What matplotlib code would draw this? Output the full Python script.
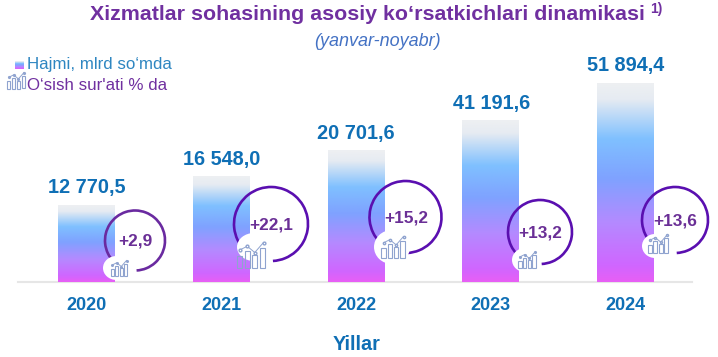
import matplotlib as mpl
mpl.use('Agg')
import matplotlib.pyplot as plt
import numpy as np
from matplotlib.colors import LinearSegmentedColormap
from matplotlib.patches import Arc, Ellipse, Rectangle

plt.rcParams['font.family'] = ['Liberation Sans', 'DejaVu Sans']

years = ['2020', '2021', '2022', '2023', '2024']
volume_labels = ['12 770,5', '16 548,0', '20 701,6', '41 191,6', '51 894,4']
# bar heights as drawn in the picture, they are not proportional to the labels
bar_heights = [77, 106, 132, 162, 199]
growth_labels = ['+2,9', '+22,1', '+15,2', '+13,2', '+13,6']

# ring: x, y, radius, colour
rings = [(135, 240.5, 30, '#6a2aa0'), (271, 224, 37, '#5a0fb0'), (405.5, 217, 36, '#5a0fb0'),
         (540, 232, 32, '#5a0fb0'), (675, 220, 33, '#5a0fb0')]
# white blob behind the icon: x, y, half width, half height
blobs = [(116.5, 268, 13.5, 12), (254, 247, 17, 14), (392, 247, 18, 17), (525, 260, 13, 12), (655, 246, 13, 12)]
# icon: x, y, scale
icons = [(119, 268, 0.75), (251, 255, 1.25), (393, 247, 1.05), (527, 260, 0.78), (658, 244, 0.92)]

BLUE = '#0f6fb5'
PURPLE = '#7030a0'
ICON = '#8fa3cf'

grad = LinearSegmentedColormap.from_list('bar', [
    (0.0, '#eef0f2'), (0.08, '#e6ebf2'), (0.28, '#7fc0ff'), (0.48, '#7fa2ff'),
    (0.7, '#b48aff'), (0.92, '#d066ff'), (1.0, '#e85ff5')])
ramp = np.linspace(0, 1, 256).reshape(-1, 1)

fig = plt.figure(figsize=(7.18, 3.57), dpi=100)
ax = fig.add_axes([0, 0, 1, 1])
ax.axis('off')

BASE = 282
BAR_W = 57
xs = [86.5 + 134.75 * i for i in range(len(years))]
label_dx = [0.5, 0.5, 0, 0.5, 0.5]


def draw_icon(cx, cy, s, color=ICON):
  for dx, h in [(-11, 9), (-5, 13), (1, 10), (7, 16)]:
    ax.add_patch(Rectangle((cx + dx * s, cy + 10 * s - h * s), 4 * s, h * s, fill=False,
                           ec=color, lw=0.8, zorder=6))
  ax.plot([cx - 9 * s, cx - 3 * s, cx + 3 * s, cx + 10 * s],
          [cy - 4 * s, cy - 7 * s, cy - 2 * s, cy - 10 * s],
          color=color, lw=0.7, marker='o', ms=1.6 * s, mfc='white', zorder=6)


ax.plot([18, 692], [BASE, BASE], color='#e6e6e6', lw=1.5, zorder=1)

for i, x in enumerate(xs):
  top = BASE - bar_heights[i]
  ax.imshow(ramp, cmap=grad, aspect='auto', zorder=2,
            extent=(x - BAR_W / 2, x + BAR_W / 2, BASE, top))
  ax.text(x + label_dx[i], top - 17, volume_labels[i], color=BLUE, fontsize=14.3,
          fontweight='bold', ha='center', va='center')
  ax.text(x, 306, years[i], color=BLUE, fontsize=13, fontweight='bold', ha='center', va='center')

  cx, cy, r, col = rings[i]
  # the y axis runs downwards, so the gap is at lower left on the screen
  ax.add_patch(Arc((cx, cy), 2 * r, 2 * r, theta1=135, theta2=447, ec=col, lw=1.9, zorder=3))
  bx, by, bw, bh = blobs[i]
  ax.add_patch(Ellipse((bx, by), 2 * bw, 2 * bh, fc='white', ec='none', zorder=4))
  draw_icon(*icons[i])
  ax.text(cx + 0.5, cy + 1, growth_labels[i], color='#6a2f96', fontsize=12.4, fontweight='bold',
          ha='center', va='center', zorder=7)

ax.text(367, 14, 'Xizmatlar sohasining asosiy ko\u2018rsatkichlari dinamikasi', color=PURPLE,
        fontsize=15.4, fontweight='bold', ha='center', va='center')
ax.text(650, 9, '1)', color=PURPLE, fontsize=10, fontweight='bold', ha='left', va='center')
ax.text(377, 41, '(yanvar-noyabr)', color='#4472c4', fontsize=13, style='italic', ha='center', va='center')

ax.imshow(ramp, cmap=grad, aspect='auto', extent=(15, 24, 69, 61), zorder=2)
ax.text(27, 64, 'Hajmi, mlrd so\u2018mda', color='#2e86c1', fontsize=12.2, ha='left', va='center')
ax.text(27, 85, "O\u2018sish sur'ati % da", color=PURPLE, fontsize=12.2, ha='left', va='center')
draw_icon(16, 80.5, 0.8)

ax.text(356.5, 345, 'Yillar', color=BLUE, fontsize=14.3, fontweight='bold', ha='center', va='center')

ax.set_xlim(0, 718)
ax.set_ylim(357, 0)
fig.savefig('out.png', dpi=100)
plt.close()
